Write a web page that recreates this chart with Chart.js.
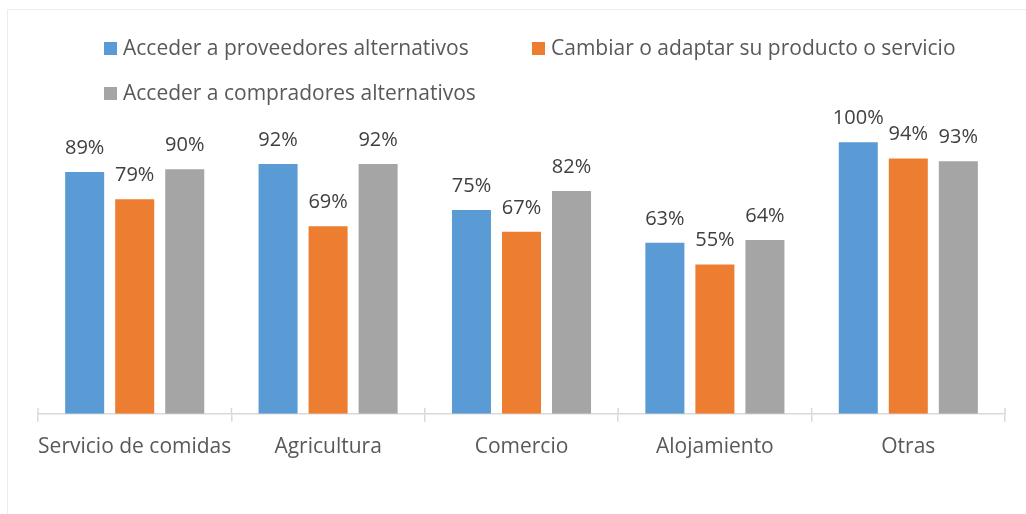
<!DOCTYPE html>
<html lang="es">
<head>
<meta charset="utf-8">
<title>Estrategias por sector</title>
<script src="https://cdn.jsdelivr.net/npm/chart.js@4.4.0/dist/chart.umd.min.js"></script>
<style>
    html, body { margin: 0; padding: 0; background: #ffffff; overflow: hidden; }
    #wrap { position: relative; width: 1026px; height: 514px; }
    #frame {
        position: absolute; left: 7px; top: 9px; right: -10px; bottom: -10px;
        border: 1px solid #ececec;
    }
    #chart { position: absolute; left: 0; top: 0; }
</style>
</head>
<body>
<div id="wrap">
    <div id="frame"></div>
    <canvas id="chart" width="1026" height="514"></canvas>
</div>
<script>
// Datos
const sectores = ['Servicio de comidas', 'Agricultura', 'Comercio', 'Alojamiento', 'Otras'];
const serieNombres = [
    'Acceder a proveedores alternativos',
    'Cambiar o adaptar su producto o servicio',
    'Acceder a compradores alternativos'
];
const proveedores = [89, 92, 75, 63, 100];
const adaptar = [79, 69, 67, 55, 94];
const compradores = [90, 92, 82, 64, 93];
const colores = ['#5B9BD5', '#ED7D31', '#A5A5A5'];

const FUENTE = '"Open Sans", "DejaVu Sans", sans-serif';

// Etiquetas de valor encima de cada barra
const etiquetasValor = {
    id: 'etiquetasValor',
    afterDatasetsDraw(chart) {
        const ctx = chart.ctx;
        ctx.save();
        ctx.font = '20px ' + FUENTE;
        ctx.fillStyle = '#404040';
        ctx.textAlign = 'center';
        ctx.textBaseline = 'alphabetic';
        chart.data.datasets.forEach((ds, i) => {
            const meta = chart.getDatasetMeta(i);
            meta.data.forEach((bar, j) => {
                ctx.fillText(ds.data[j] + '%', bar.x, bar.y - 18);
            });
        });
        ctx.restore();
    }
};

// Marcas del eje que cruzan la línea hacia arriba
const marcasEje = {
    id: 'marcasEje',
    afterDraw(chart) {
        const xs = chart.scales.x;
        const ctx = chart.ctx;
        const y = chart.chartArea.bottom;
        ctx.save();
        ctx.strokeStyle = '#d9d9d9';
        ctx.lineWidth = 1.5;
        ctx.beginPath();
        for (let i = 0; i <= sectores.length; i++) {
            const x = xs.getPixelForValue(i - 0.5);
            ctx.moveTo(x, y - 6);
            ctx.lineTo(x, y);
        }
        ctx.stroke();
        ctx.restore();
    }
};

// Leyenda en dos columnas (estilo Excel)
const leyenda = {
    id: 'leyenda',
    afterDraw(chart) {
        const ctx = chart.ctx;
        const x0 = 104, y0 = 42, colW = 428, rowH = 45, box = 13;
        ctx.save();
        ctx.font = '21px ' + FUENTE;
        ctx.textBaseline = 'alphabetic';
        chart.data.datasets.forEach((ds, i) => {
            const col = i % 2;
            const row = Math.floor(i / 2);
            const x = x0 + col * colW;
            const y = y0 + row * rowH;
            ctx.fillStyle = ds.backgroundColor;
            ctx.fillRect(x, y, box, box);
            ctx.fillStyle = '#595959';
            ctx.fillText(ds.label, x + 19, y + box);
        });
        ctx.restore();
    }
};

function init() {
    const ctx = document.getElementById('chart').getContext('2d');
    const series = [proveedores, adaptar, compradores];

    new Chart(ctx, {
        type: 'bar',
        data: {
            labels: sectores,
            datasets: series.map((valores, i) => ({
                label: serieNombres[i],
                data: valores,
                backgroundColor: colores[i],
                borderWidth: 0,
                categoryPercentage: 0.776,
                barPercentage: 0.78
            }))
        },
        options: {
            responsive: false,
            animation: false,
            layout: {
                padding: { left: 38, right: 21, top: 115, bottom: 41 }
            },
            plugins: {
                legend: { display: false },
                tooltip: { enabled: false }
            },
            scales: {
                x: {
                    grid: {
                        offset: true,
                        drawOnChartArea: false,
                        drawTicks: true,
                        tickLength: 8,
                        color: '#d9d9d9',
                        lineWidth: 1.5
                    },
                    border: { color: '#d9d9d9', width: 1.5 },
                    ticks: {
                        color: '#595959',
                        padding: 13,
                        autoSkip: false,
                        maxRotation: 0,
                        minRotation: 0,
                        font: { family: FUENTE, size: 21 }
                    }
                },
                y: {
                    display: false,
                    min: 0,
                    max: 110
                }
            }
        },
        plugins: [etiquetasValor, marcasEje, leyenda]
    });
}

window.addEventListener('load', init);
</script>
</body>
</html>
